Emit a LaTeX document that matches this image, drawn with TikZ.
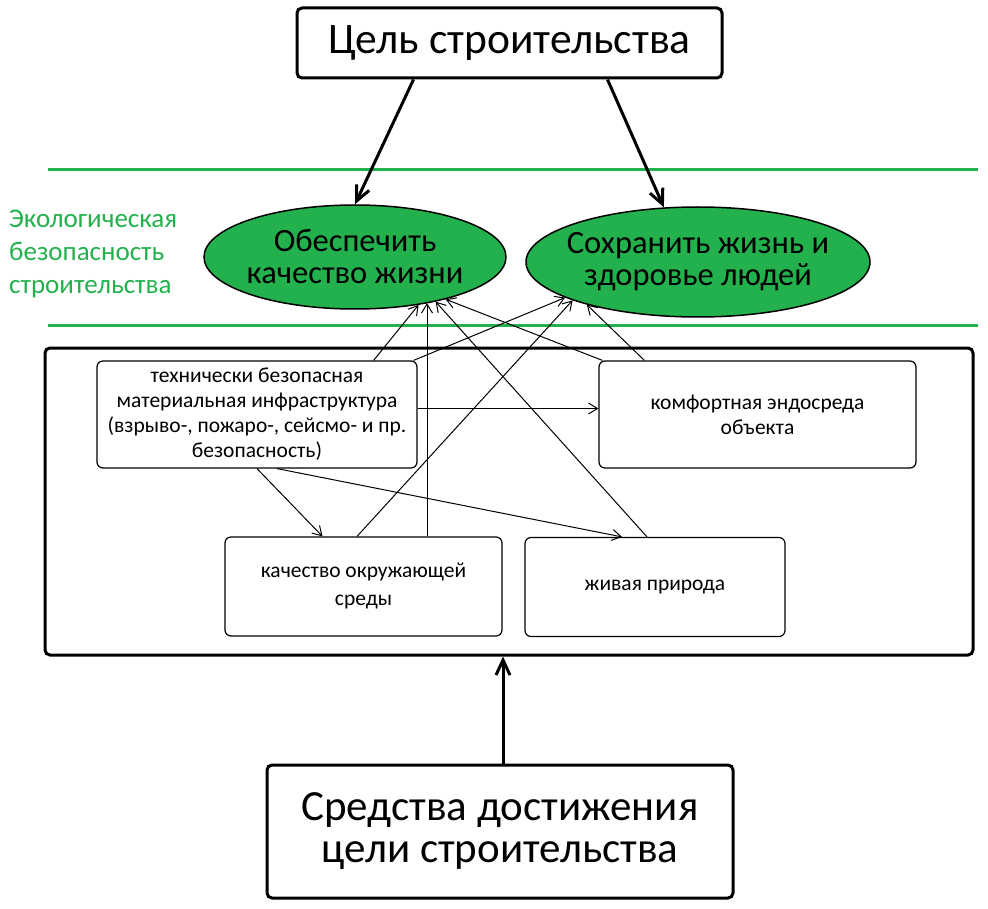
\documentclass[tikz,border=0pt]{standalone}
\usepackage{fontspec}
\setmainfont{Carlito}
\usetikzlibrary{arrows.meta,shapes.geometric}
\definecolor{ecogreen}{HTML}{22B14C}

\begin{document}
\begin{tikzpicture}[x=1pt, y=-1pt,
  bigbox/.style={draw, line width=3pt, rounded corners=5pt, inner sep=0pt, align=center},
  smallbox/.style={draw, line width=1.2pt, rounded corners=6pt, inner sep=0pt, align=center, font=\fontsize{21.5}{25}\selectfont},
  goalell/.style={draw, ellipse, fill=ecogreen, line width=1.5pt, inner ysep=0pt, inner xsep=-14pt, align=center, font=\fontsize{32.5}{32}\selectfont},
  thinarrow/.style={-{Straight Barb[length=9pt,width=11pt]}, line width=1pt},
  mainarrow/.style={-{Straight Barb[length=15pt,width=14pt]}, line width=3pt}]
  \useasboundingbox (0,0) rectangle (988,909);
  % green band
  \draw[ecogreen, line width=3pt] (48,170) -- (978,170);
  \draw[ecogreen, line width=3pt] (48,326) -- (978,326);
  \node[anchor=west, inner sep=0pt, align=left, text=ecogreen, font=\fontsize{27}{33}\selectfont] (eco) at (9,254) {Экологическая\\безопасность\\строительства};
  % goal and targets
  \node[bigbox, minimum width=425, minimum height=70, font=\fontsize{43.5}{46}\selectfont] (goal) at (509.5,43) {Цель строительства};
  \node[goalell, minimum width=302, minimum height=104] (life) at (355,257) {Обеспечить\\качество жизни};
  \node[goalell, minimum width=344, minimum height=110] (health) at (698,262) {Сохранить жизнь и\\здоровье людей};
  % means
  \node[bigbox, minimum width=928, minimum height=307] (frame) at (509,501.5) {};
  \node[smallbox, minimum width=320, minimum height=107] (infra) at (257,414.5) {технически безопасная\\материальная инфраструктура\\(взрыво-, пожаро-, сейсмо- и пр.\\безопасность)};
  \node[smallbox, minimum width=317, minimum height=107] (endo) at (757.5,414.5) {комфортная эндосреда\\объекта};
  \node[smallbox, minimum width=277, minimum height=99, font=\fontsize{21.5}{28}\selectfont] (env) at (363.5,586.5) {качество окружающей\\среды};
  \node[smallbox, minimum width=260, minimum height=99] (nature) at (655,587) {живая природа};
  \node[bigbox, minimum width=466, minimum height=133, font=\fontsize{43}{42}\selectfont] (means) at (500,831.5) {Средства достижения\\цели строительства};
  % arrows
  \draw[mainarrow] ([xshift=-96pt]goal.south) -- (life.north);
  \draw[mainarrow] ([xshift=98pt]goal.south) -- (health.122);
  \draw[mainarrow] ([xshift=3pt]means.north) -- ([xshift=3pt]means.north |- frame.south);
  \draw[thinarrow] ([yshift=6pt]infra.east) -- ([yshift=6pt]infra.east -| endo.west);
  \draw[thinarrow] (infra.south) -- ([xshift=-41pt]env.north);
  \draw[thinarrow] ([xshift=20pt]infra.south) -- ([xshift=-33pt]nature.north);
  \draw[thinarrow] ([xshift=-44pt]infra.north east) -- (life.-37.7);
  \draw[thinarrow] ([xshift=-4pt]infra.north east) -- (health.195);
  \draw[thinarrow] ([xshift=63.5pt]env.north) -- ([xshift=63.5pt]env.north |- life.-32.4);
  \draw[thinarrow] ([xshift=-6.5pt]env.north) -- (health.197);
  \draw[thinarrow] ([xshift=4pt]endo.north west) -- (life.-25);
  \draw[thinarrow] ([xshift=46pt]endo.north west) -- (health.201.6);
  \draw[thinarrow] ([xshift=-8pt]nature.north) -- (life.-29.7);
\end{tikzpicture}
\end{document}
